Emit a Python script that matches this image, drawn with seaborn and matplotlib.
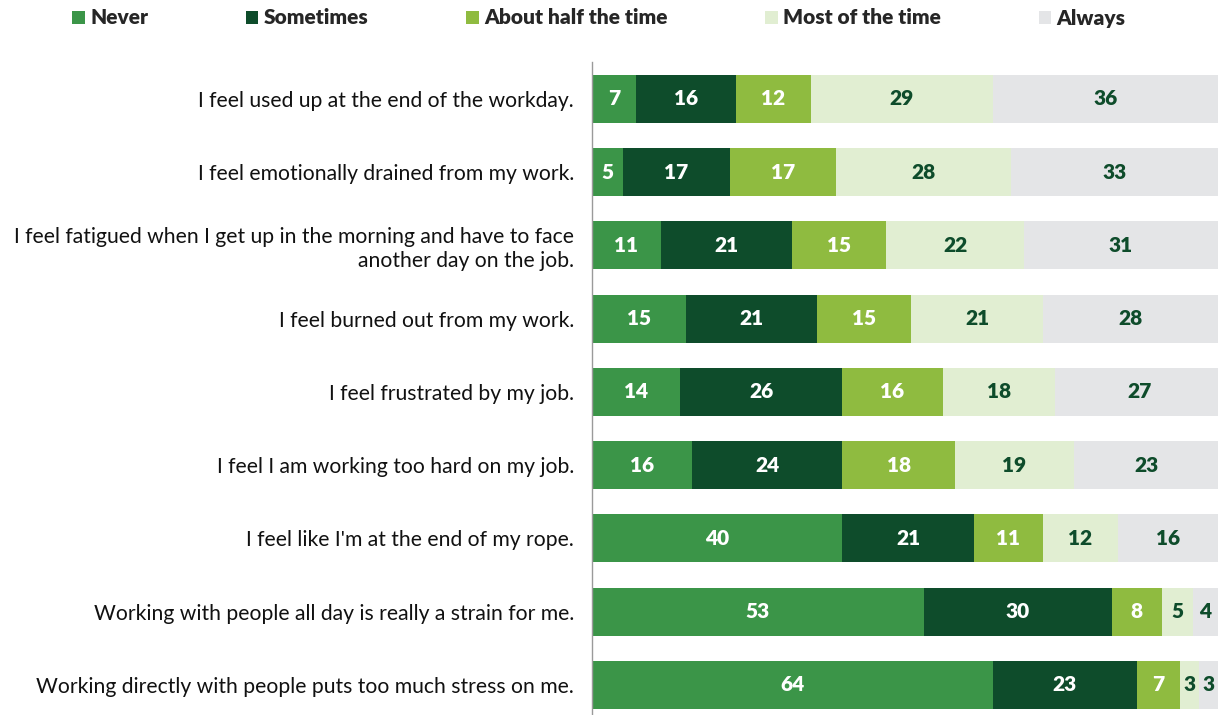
import matplotlib
matplotlib.use("Agg")
import matplotlib.pyplot as plt
from matplotlib.patches import Patch
import numpy as np
import pandas as pd
import seaborn as sns

statements = [
    "I feel used up at the end of the workday.",
    "I feel emotionally drained from my work.",
    "I feel fatigued when I get up in the morning and have to face\nanother day on the job.",
    "I feel burned out from my work.",
    "I feel frustrated by my job.",
    "I feel I am working too hard on my job.",
    "I feel like I'm at the end of my rope.",
    "Working with people all day is really a strain for me.",
    "Working directly with people puts too much stress on me.",
]
categories = ["Never", "Sometimes", "About half the time", "Most of the time", "Always"]
never = [7, 5, 11, 15, 14, 16, 40, 53, 64]
sometimes = [16, 17, 21, 21, 26, 24, 21, 30, 23]
half = [12, 17, 15, 15, 16, 18, 11, 8, 7]
most = [29, 28, 22, 21, 18, 19, 12, 5, 3]
always = [36, 33, 31, 28, 27, 23, 16, 4, 3]

colors = ["#3b9548", "#0e4c2b", "#8fbb40", "#e1eed2", "#e4e5e7"]
label_colors = ["white", "white", "white", "#0e4c2b", "#0e4c2b"]

sns.set_theme(style="white")
plt.rcParams["font.family"] = ["Lato", "DejaVu Sans"]

series = [never, sometimes, half, most, always]
values = np.array(series, dtype=float)          # shape (5, 9)
cumulative = np.cumsum(values, axis=0)

fig = plt.figure(figsize=(12.2, 7.15), dpi=100)
ax = fig.add_axes([592 / 1220, 0.0, 626 / 1220, 1 - 62 / 715])

# Stacked bars: draw cumulative totals from the outermost segment inwards
for i in range(len(categories) - 1, -1, -1):
    df = pd.DataFrame({"statement": statements, "total": cumulative[i]})
    sns.barplot(data=df, x="total", y="statement", order=statements,
                color=colors[i], saturation=1, width=0.655,
                orient="h", ax=ax, linewidth=0)

# Segment value labels
for i in range(len(categories)):
    for j in range(len(statements)):
        center = cumulative[i, j] - values[i, j] / 2
        ax.text(center, j, f"{int(values[i, j])}", ha="center", va="center",
                color=label_colors[i], fontsize=15, fontweight="heavy")

ax.set_xlim(0, 100)
ax.set_ylim(8.41, -0.505)
ax.set_xlabel("")
ax.set_ylabel("")
ax.set_xticks([])
ax.tick_params(axis="y", length=0, pad=13, labelsize=15.2, labelcolor="#111111")
for lbl in ax.get_yticklabels():
    lbl.set_horizontalalignment("right")
    lbl.set_multialignment("right")
    lbl.set_linespacing(1.25)
for side in ["top", "right", "bottom"]:
    ax.spines[side].set_visible(False)
ax.spines["left"].set_color("#9a9a9a")
ax.spines["left"].set_linewidth(1.0)

handles = [Patch(facecolor=c, edgecolor="none") for c in colors]
fig.legend(handles, categories, loc="center left", bbox_to_anchor=(64 / 1220, 1 - 18 / 715),
           ncol=5, frameon=False, handlelength=0.6, handleheight=0.6,
           handletextpad=0.25, columnspacing=4.7, borderaxespad=0,
           prop={"weight": "heavy", "size": 15})

fig.savefig("out.png", dpi=100)
